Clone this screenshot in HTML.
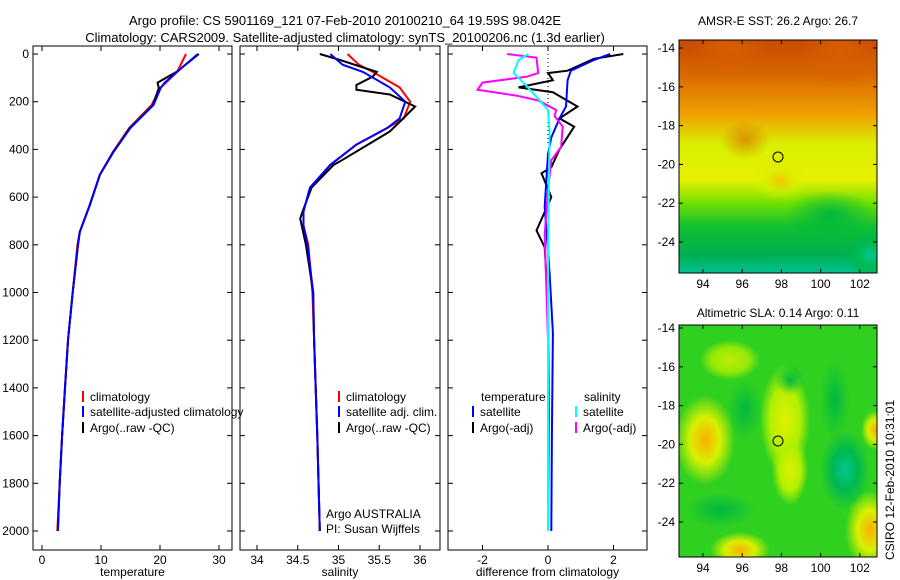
<!DOCTYPE html>
<html><head><meta charset="utf-8">
<style>
body{margin:0;background:#fff;}
svg{display:block;font-family:"Liberation Sans",sans-serif;}
text{font-size:12px;fill:#000;}
</style></head>
<body>
<svg id="fig" width="900" height="580" viewBox="0 0 900 580">
<defs>
<linearGradient id="sstg" x1="0" y1="0" x2="0" y2="1">
<stop offset="0" stop-color="#c84a00"/><stop offset="0.15" stop-color="#d86800"/>
<stop offset="0.32" stop-color="#f0a000"/><stop offset="0.45" stop-color="#d8f000"/>
<stop offset="0.6" stop-color="#e8f000"/><stop offset="0.7" stop-color="#70e000"/>
<stop offset="0.8" stop-color="#10c030"/><stop offset="0.92" stop-color="#00b050"/>
<stop offset="1" stop-color="#00c090"/></linearGradient>
<radialGradient id="yb"><stop offset="0" stop-color="#f8b000"/><stop offset="0.5" stop-color="#d8f000"/><stop offset="1" stop-color="#d8f000" stop-opacity="0"/></radialGradient>
<radialGradient id="tb"><stop offset="0" stop-color="#00c890"/><stop offset="0.5" stop-color="#00b850"/><stop offset="1" stop-color="#00b850" stop-opacity="0"/></radialGradient>
<radialGradient id="lb"><stop offset="0" stop-color="#e0f000"/><stop offset="0.6" stop-color="#b0f000"/><stop offset="1" stop-color="#b0f000" stop-opacity="0"/></radialGradient>
<radialGradient id="gb"><stop offset="0" stop-color="#00b840"/><stop offset="1" stop-color="#00b840" stop-opacity="0"/></radialGradient>
<radialGradient id="ob"><stop offset="0" stop-color="#d86000"/><stop offset="1" stop-color="#d86000" stop-opacity="0"/></radialGradient>
<clipPath id="c1"><rect x="679" y="40" width="198" height="233"/></clipPath>
<clipPath id="c2"><rect x="679" y="325" width="198" height="232"/></clipPath>
</defs>

<text x="345" y="25" text-anchor="middle" style="font-size:13px">Argo profile: CS 5901169_121 07-Feb-2010 20100210_64 19.59S 98.042E</text>
<text x="345" y="42" text-anchor="middle" style="font-size:13px">Climatology: CARS2009. Satellite-adjusted climatology: synTS_20100206.nc (1.3d earlier)</text>

<g id="p1"></g>
<g id="p2"></g>
<g id="p3"></g>

<g clip-path="url(#c1)">
<rect x="679" y="40" width="198" height="233" fill="url(#sstg)"/>
<ellipse cx="730" cy="50" rx="40" ry="25" fill="url(#ob)"/>
<ellipse cx="840" cy="55" rx="40" ry="35" fill="url(#ob)"/>
<ellipse cx="745" cy="140" rx="25" ry="20" fill="url(#ob)" opacity="0.6"/>
<ellipse cx="780" cy="180" rx="30" ry="22" fill="url(#yb)" opacity="0.6"/>
<ellipse cx="830" cy="215" rx="45" ry="25" fill="url(#gb)"/>
<ellipse cx="870" cy="255" rx="25" ry="25" fill="url(#tb)"/>
</g>
<rect x="679" y="40" width="198" height="233" fill="none" stroke="#000"/>
<circle cx="778" cy="157" r="5" fill="none" stroke="#000"/>
<text x="778" y="25" text-anchor="middle">AMSR-E SST: 26.2 Argo: 26.7</text>

<g clip-path="url(#c2)">
<rect x="679" y="325" width="198" height="232" fill="#30d020"/>
<ellipse cx="705" cy="440" rx="30" ry="45" fill="url(#yb)"/>
<ellipse cx="785" cy="420" rx="25" ry="55" fill="url(#lb)"/>
<ellipse cx="790" cy="470" rx="18" ry="35" fill="url(#lb)"/>
<ellipse cx="730" cy="360" rx="30" ry="20" fill="url(#lb)" opacity="0.8"/>
<ellipse cx="740" cy="550" rx="30" ry="18" fill="url(#yb)"/>
<ellipse cx="870" cy="530" rx="25" ry="40" fill="url(#yb)"/>
<ellipse cx="875" cy="430" rx="14" ry="20" fill="url(#yb)"/>
<ellipse cx="845" cy="470" rx="25" ry="40" fill="url(#tb)"/>
<ellipse cx="835" cy="400" rx="15" ry="40" fill="url(#gb)"/>
<ellipse cx="745" cy="410" rx="18" ry="30" fill="url(#gb)"/>
<ellipse cx="720" cy="510" rx="35" ry="18" fill="url(#gb)"/>
<ellipse cx="790" cy="380" rx="15" ry="15" fill="url(#gb)"/>
</g>
<rect x="679" y="325" width="198" height="232" fill="none" stroke="#000"/>
<circle cx="778" cy="441" r="5" fill="none" stroke="#000"/>
<text x="778" y="317" text-anchor="middle">Altimetric SLA: 0.14 Argo: 0.11</text>
<g id="maps"></g>
<text transform="translate(894,560) rotate(-90)">CSIRO 12-Feb-2010 10:31:01</text>
</svg>
<script>
const depthTicks=[0,200,400,600,800,1000,1200,1400,1600,1800,2000];
const tempTicks=[0,10,20,30];
const salTicks=[34,34.5,35,35.5,36];
const salTickLabels=["34","34.5","35","35.5","36"];
const diffTicks=[-2,0,2];
const mapLonTicks=[94,96,98,100,102];
const mapLatTicks=[-14,-16,-18,-20,-22,-24];

const tDepth=[0,75,120,143,214,310,411,507,633,746,801,1000,1200,1400,1600,1800,2000];
const tArgo=[26.6,22.8,19.6,19.8,18.8,14.9,12.1,9.8,8.1,6.4,6.1,5.2,4.4,3.9,3.4,3.0,2.7];
const tClim=[24.4,22.9,21,20,18.6,14.8,12.0,9.8,8.1,6.4,6.0,5.2,4.4,3.9,3.4,3.0,2.6];
const tSat=[26.4,22.9,20.8,20.1,18.9,15.0,12.1,9.8,8.1,6.4,6.1,5.2,4.4,3.9,3.4,3.0,2.7];

const sDepth=[0,25,75,95,130,150,170,220,285,325,450,465,560,660,690,800,1000,1200,1600,2000];
const sArgo=[34.77,35.02,35.47,35.42,35.22,35.22,35.63,35.94,35.75,35.63,35.02,34.94,34.67,34.56,34.53,34.6,34.69,34.7,34.74,34.77];
const sDepthC=[0,45,75,140,200,270,310,380,465,560,660,720,800,1000,1200,1600,2000];
const sClim=[35.11,35.25,35.42,35.75,35.88,35.8,35.6,35.22,34.9,34.65,34.57,34.57,34.63,34.68,34.7,34.74,34.77];
const sSat=[34.9,35.05,35.3,35.63,35.82,35.75,35.6,35.22,34.9,34.65,34.57,34.57,34.62,34.69,34.7,34.74,34.77];

const dTDepth=[0,20,70,80,110,140,160,220,270,305,400,475,500,600,740,810,1060,1500,2000];
const dTArgo=[2.3,1.4,0.6,0,0.15,-0.9,0.15,0.9,0.35,0.8,0.35,0.1,-0.2,0.1,-0.35,-0.1,0,0.02,0];
const dTSatDepth=[0,25,70,110,220,270,350,420,640,920,1170,1600,2000];
const dTSat=[1.9,1.4,0.7,0.6,0.55,0.35,0.1,0,-0.1,0.05,0.15,0.12,0.1];
const dSDepth=[0,15,80,95,120,150,175,195,235,260,305,390,445,570,760,1200,2000];
const dSArgo=[-1.25,-0.35,-0.3,-0.65,-2.0,-2.15,-0.95,-0.3,0.25,0.2,0.45,0.4,0.1,0,-0.1,0,0];
const dSSatDepth=[0,25,80,120,180,235,330,800,1400,2000];
const dSSat=[-0.6,-0.9,-1.05,-0.75,-0.35,0,0.05,0,0,0];

const NS="http://www.w3.org/2000/svg";
const Y0=54,Y2000=531;
const yD=d=>Y0+(Y2000-Y0)*d/2000;
const xT=v=>42+v*5.9;
const xS=v=>257+(v-34)*81.5;
const xDf=v=>548+v*32.75;
function mk(tag,attrs,parent){const e=document.createElementNS(NS,tag);for(const k in attrs)e.setAttribute(k,attrs[k]);parent.appendChild(e);return e;}
function line(g,xs,ds,xf,color,name,w){
  const pts=ds.map((d,i)=>xf(xs[i]).toFixed(1)+","+yD(d).toFixed(1)).join(" ");
  const p=mk("polyline",{points:pts,fill:"none",stroke:color,"stroke-width":w||2},g);
  
  
}
function panel(g,x0,x1,xt,xf,xlabels,xtitle,showY){
  const r=mk("rect",{x:x0,y:46,width:x1-x0,height:504,fill:"none",stroke:"#000"},g);
  
  
  xt.forEach((v,i)=>{const x=xf(v);
    mk("line",{x1:x,x2:x,y1:550,y2:545,stroke:"#000"},g);
    mk("line",{x1:x,x2:x,y1:46,y2:51,stroke:"#000"},g);
    const t=mk("text",{x:x,y:564,"text-anchor":"middle"},g);t.textContent=xlabels[i];
    
    
  });
  depthTicks.forEach(d=>{const y=yD(d);
    mk("line",{x1:x0,x2:x0+5,y1:y,y2:y,stroke:"#000"},g);
    mk("line",{x1:x1-5,x2:x1,y1:y,y2:y,stroke:"#000"},g);
    if(showY){const t=mk("text",{x:x0-4,y:y+4,"text-anchor":"end"},g);t.textContent=d;
      
      }
  });
  const t=mk("text",{x:(x0+x1)/2,y:576,"text-anchor":"middle"},g);t.textContent=xtitle;
  
  
}
function legend(g,x,y,color,label){
  mk("line",{x1:x,x2:x,y1:y-10,y2:y+1,stroke:color,"stroke-width":2},g);
  const t=mk("text",{x:x+7,y:y},g);t.textContent=label;
  
  
}
const p1=document.getElementById("p1"),p2=document.getElementById("p2"),p3=document.getElementById("p3");
panel(p1,33,232,tempTicks,xT,tempTicks.map(String),"temperature",true);
line(p1,tClim,tDepth,xT,"#f00","temp-climatology-line");
line(p1,tArgo,tDepth,xT,"#000","temp-argo-line");
line(p1,tSat,tDepth,xT,"#00f","temp-satellite-line");
legend(p1,83,401,"#f00","climatology");
legend(p1,83,416,"#00f","satellite-adjusted climatology");
legend(p1,83,432,"#000","Argo(..raw -QC)");

panel(p2,240,440,salTicks,xS,salTickLabels,"salinity",false);
line(p2,sClim,sDepthC,xS,"#f00","sal-climatology-line");
line(p2,sArgo,sDepth,xS,"#000","sal-argo-line");
line(p2,sSat,sDepthC,xS,"#00f","sal-satellite-line");
legend(p2,339,401,"#f00","climatology");
legend(p2,339,416,"#00f","satellite adj. clim.");
legend(p2,339,432,"#000","Argo(..raw -QC)");
[["Argo AUSTRALIA",518],["PI: Susan Wijffels",533]].forEach(a=>{const t=mk("text",{x:326,y:a[1]},p2);t.textContent=a[0];
  
  });

panel(p3,448,647,diffTicks,xDf,diffTicks.map(String),"difference from climatology",false);
mk("line",{x1:xDf(0),x2:xDf(0),y1:46,y2:145,stroke:"#000","stroke-dasharray":"1,3"},p3);
line(p3,dTArgo,dTDepth,xDf,"#000","diff-temp-argo-line");
line(p3,dTSat,dTSatDepth,xDf,"#00f","diff-temp-satellite-line");
line(p3,dSArgo,dSDepth,xDf,"#f0f","diff-sal-argo-line");
line(p3,dSSat,dSSatDepth,xDf,"#0ff","diff-sal-satellite-line");
[["temperature",481],["salinity",584]].forEach(a=>{const t=mk("text",{x:a[1],y:401},p3);t.textContent=a[0];
  
  });
legend(p3,473,416,"#00f","satellite");
legend(p3,473,432,"#000","Argo(-adj)");
legend(p3,576,416,"#0ff","satellite");
legend(p3,576,432,"#f0f","Argo(-adj)");

const mg=document.getElementById("maps");
[[40,273,48],[325,557,328]].forEach(m=>{
  const [top,bot,lat14]=m;
  mapLonTicks.forEach(l=>{const x=703+(l-94)*19.6;
    mk("line",{x1:x,x2:x,y1:bot,y2:bot-4,stroke:"#000"},mg);
    mk("line",{x1:x,x2:x,y1:top,y2:top+4,stroke:"#000"},mg);
    const t=mk("text",{x:x,y:bot+15,"text-anchor":"middle"},mg);t.textContent=l;
    
    });
  mapLatTicks.forEach(l=>{const y=lat14+(-14-l)*19.4;
    mk("line",{x1:679,x2:683,y1:y,y2:y,stroke:"#000"},mg);
    mk("line",{x1:873,x2:877,y1:y,y2:y,stroke:"#000"},mg);
    const t=mk("text",{x:675,y:y+4,"text-anchor":"end"},mg);t.textContent=l;
    
    });
});
</script>
</body></html>
